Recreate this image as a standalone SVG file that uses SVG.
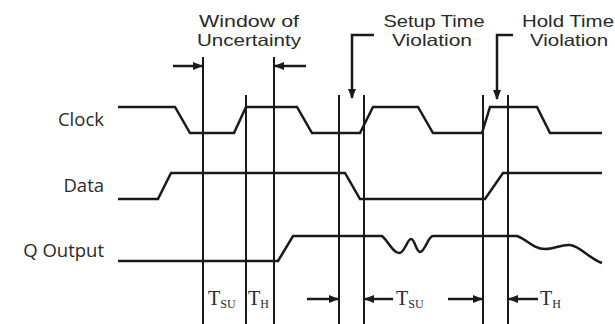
<svg xmlns="http://www.w3.org/2000/svg" width="615" height="324" viewBox="0 0 615 324">
<defs>
<marker id="ah" markerWidth="10" markerHeight="10" refX="9" refY="5" orient="auto" markerUnits="userSpaceOnUse">
<path d="M0,1 L10,5 L0,9 Z" fill="#1a1a1a"/>
</marker>
</defs>
<style>
.sig{fill:none;stroke:#1a1a1a;stroke-width:2.5;stroke-linejoin:miter}
.vl{stroke:#1a1a1a;stroke-width:2}
.arr{fill:none;stroke:#1a1a1a;stroke-width:2.5;marker-end:url(#ah)}
.lbl{font-family:"Open Sans","Liberation Sans",sans-serif;font-size:18.5px;fill:#2a2a2a}
.hd{font-family:"Liberation Sans","Open Sans",sans-serif;font-size:16.5px;fill:#2a2a2a;text-anchor:middle}
.t{font-family:"Liberation Serif","DejaVu Serif",serif;font-size:20px;fill:#2a2a2a}
.sub{font-size:12px}
</style>
<rect width="615" height="324" fill="#ffffff"/>
<g id="labels">
<text class="lbl" x="104" y="126" text-anchor="end">Clock</text>
<text class="lbl" x="104" y="192" text-anchor="end">Data</text>
<text class="lbl" x="104" y="257" text-anchor="end">Q Output</text>
</g>
<g id="window-label">
<text class="hd" x="249" y="27" textLength="100" lengthAdjust="spacingAndGlyphs">Window of</text>
<text class="hd" x="249" y="46" textLength="104" lengthAdjust="spacingAndGlyphs">Uncertainty</text>
</g>
<g id="setup-label">
<text class="hd" x="434" y="27" textLength="101" lengthAdjust="spacingAndGlyphs">Setup Time</text>
<text class="hd" x="432" y="46" textLength="80" lengthAdjust="spacingAndGlyphs">Violation</text>
</g>
<g id="hold-label">
<text class="hd" x="568" y="27" textLength="92" lengthAdjust="spacingAndGlyphs">Hold Time</text>
<text class="hd" x="569" y="46" textLength="78" lengthAdjust="spacingAndGlyphs">Violation</text>
</g>
<g id="clock">
<path class="sig" d="M118,107 H175 L190,133 H234 L246,107 H297 L312,133 H360 L373,107 H418 L433,133 H482 L490,107 H537 L550,133 H602"/>
</g>
<g id="data">
<path class="sig" d="M118,199 H158 L171,173 H345 L360,199 H485 L503,173 H602"/>
</g>
<g id="q-output">
<path class="sig" d="M118,261 H278 L293,236 H382 C388,241 393,253 399,253 C405,253 407,239 411,239 C415,239 416,252 420,252 C425,252 428,236 433,236 H517 C528,240 533,249 545,249 C555,249 562,244 570,245 C580,246 590,259 602,263"/>
</g>
<g id="connectors">
<line class="vl" x1="203" y1="57" x2="203" y2="324"/>
<line class="vl" x1="246" y1="95" x2="246" y2="324"/>
<line class="vl" x1="274" y1="57" x2="274" y2="324"/>
<line class="vl" x1="339" y1="95" x2="339" y2="324"/>
<line class="vl" x1="364" y1="95" x2="364" y2="324"/>
<line class="vl" x1="483" y1="95" x2="483" y2="324"/>
<line class="vl" x1="508" y1="95" x2="508" y2="324"/>
<path class="arr" d="M173,66 H202"/>
<path class="arr" d="M306,66 H275"/>
<path class="arr" d="M374,35 H352 V98"/>
<path class="arr" d="M513,35 H497 V99"/>
<path class="arr" d="M307,299 H338"/>
<path class="arr" d="M393,299 H365"/>
<path class="arr" d="M448,299 H482"/>
<path class="arr" d="M538,299 H509"/>
</g>
<g id="timing-labels">
<text class="t" x="208" y="305">T<tspan class="sub" dy="3">SU</tspan></text>
<text class="t" x="248" y="305">T<tspan class="sub" dy="3">H</tspan></text>
<text class="t" x="396" y="305">T<tspan class="sub" dy="3">SU</tspan></text>
<text class="t" x="540" y="305">T<tspan class="sub" dy="3">H</tspan></text>
</g>
</svg>
